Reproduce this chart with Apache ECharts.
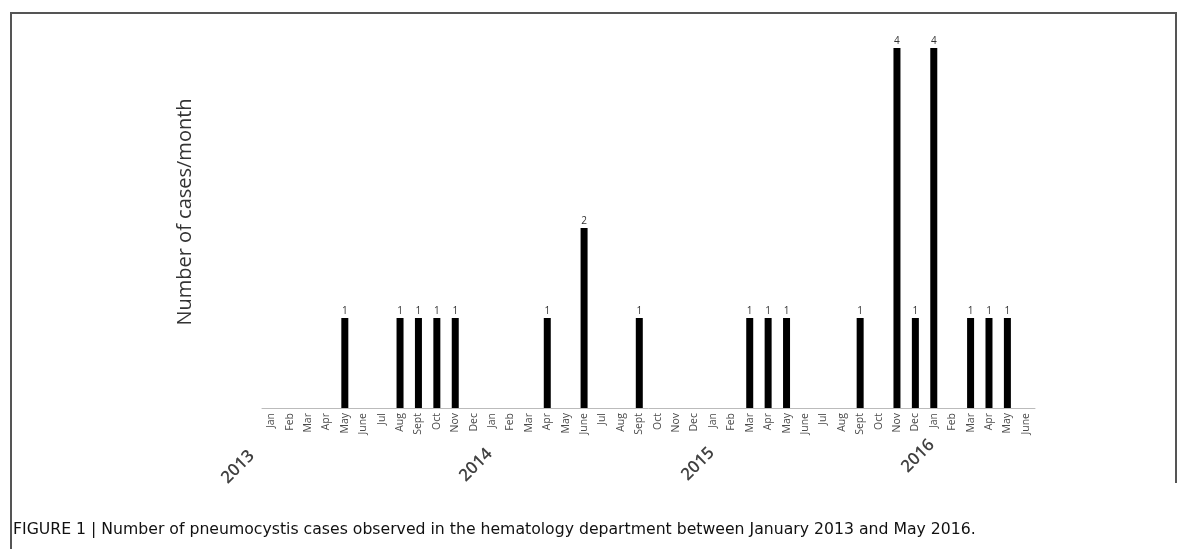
<!DOCTYPE html>
<html>
<head>
<meta charset="utf-8">
<script src="https://cdn.jsdelivr.net/npm/echarts@6/dist/echarts.min.js"></script>
<style>
html,body{margin:0;padding:0;background:#fff;}
#chart{width:1189px;height:549px;}
</style>
</head>
<body>
<div id="chart"></div>
<script>
const months = [
  'Jan','Feb','Mar','Apr','May','June','Jul','Aug','Sept','Oct','Nov','Dec',
  'Jan','Feb','Mar','Apr','May','June','Jul','Aug','Sept','Oct','Nov','Dec',
  'Jan','Feb','Mar','Apr','May','June','Jul','Aug','Sept','Oct','Nov','Dec',
  'Jan','Feb','Mar','Apr','May','June'
];
const cases = [
  null,null,null,null,1,null,null,1,1,1,1,null,
  null,null,null,1,null,2,null,null,1,null,null,null,
  null,null,1,1,1,null,null,null,1,null,4,1,
  4,null,1,1,1,null
];
const yearLabels = ['2013','2014','2015','2016'];
const yAxisTitle = 'Number of cases/month';
const caption = 'FIGURE 1 | Number of pneumocystis cases observed in the hematology department between January 2013 and May 2016.';

const chart = echarts.init(document.getElementById('chart'), null, {renderer:'canvas'});
const yearPos = [[238,467],[476,465],[698,464],[918,456]];
const graphics = [
  {type:'polyline', shape:{points:[[11,549],[11,13],[1176,13],[1176,483]]}, style:{stroke:'#555',lineWidth:2,fill:null}},
  {type:'text', x:185, y:212, rotation:Math.PI/2, style:{text:yAxisTitle, font:'20px "Open Sans"', fill:'#333', textAlign:'center', textVerticalAlign:'middle'}},
  {type:'text', x:13, y:530, style:{text:caption, font:'15.7px "DejaVu Sans"', fill:'#111', textAlign:'left', textVerticalAlign:'middle'}}
];
yearLabels.forEach((t,i)=>{
  graphics.push({type:'text', x:yearPos[i][0], y:yearPos[i][1], rotation:Math.PI/4,
    style:{text:t, font:'600 17px "Open Sans"', fill:'#404040', textAlign:'center', textVerticalAlign:'middle'}});
});
chart.setOption({
  animation:false,
  grid:{left:262, right:154, top:48, bottom:141},
  xAxis:{
    type:'category', data:months,
    axisLine:{lineStyle:{color:'#bbb',width:1}},
    axisTick:{show:false},
    axisLabel:{rotate:90, interval:0, fontSize:10.5, color:'#4a4a4a', fontFamily:'Open Sans', margin:5}
  },
  yAxis:{type:'value', min:0, max:4, show:false, splitLine:{show:false}},
  series:[{
    type:'bar', data:cases, barWidth:7,
    itemStyle:{color:'#000'},
    label:{show:true, position:'top', fontSize:10, color:'#333', distance:2, fontFamily:'Open Sans'}
  }],
  graphic:graphics
});
</script>
</body>
</html>
